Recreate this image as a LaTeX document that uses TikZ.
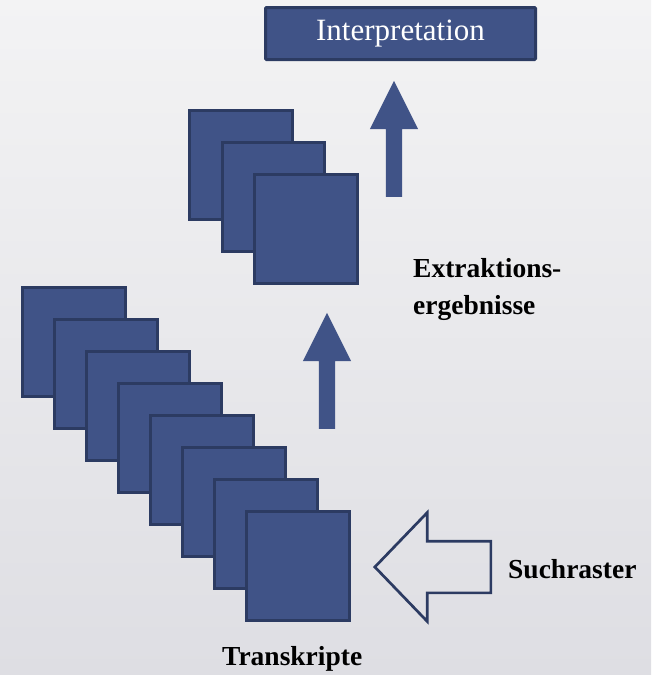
\documentclass[tikz,border=0pt]{standalone}
\usepackage{fontspec}
\setmainfont{Liberation Serif}
\usetikzlibrary{shapes.arrows}
\definecolor{sheetblue}{RGB}{64,83,135}
\definecolor{sheetline}{RGB}{44,59,98}
\definecolor{bgtop}{RGB}{243,243,244}
\definecolor{bgbottom}{RGB}{222,222,227}
\tikzset{
  sheet/.style={rectangle, draw=sheetline, fill=sheetblue, line width=3pt,
    minimum width=102.5pt, minimum height=108.5pt, inner sep=0pt},
  titlebox/.style={rectangle, draw=sheetline, fill=sheetblue, line width=3pt,
    minimum width=270pt, minimum height=52pt, rounded corners=1pt, text=white,
    font=\fontsize{31}{37}\selectfont},
  caption/.style={inner sep=0pt, font=\fontsize{27.5}{37}\selectfont\bfseries},
  uparrow/.style={single arrow, fill=sheetblue, shape border rotate=90,
    inner sep=8pt, minimum width=0pt, single arrow head extend=16pt,
    single arrow tip angle=53.13, minimum height=116pt},
  openarrow/.style={single arrow, draw=sheetline, line width=2.7pt,
    shape border rotate=180, inner sep=24.5pt, minimum width=0pt,
    single arrow head extend=28.5pt, single arrow tip angle=92.2,
    minimum height=116pt}
}
\begin{document}
\begin{tikzpicture}[x=1pt, y=-1pt]
    % background
    \shade[top color=bgtop, bottom color=bgbottom] (0,0) rectangle (651,675);
    % Place nodes
    \node [titlebox] (interp) at (400.5,33.5) {Interpretation};
    \foreach \i in {0,...,7}
        \node [sheet] (trans\i) at ({73.75+32*\i},{341.75+32*\i}) {};
    \foreach \i in {0,1,2}
        \node [sheet] (extr\i) at ({241+32.5*\i},{165+32*\i}) {};
    \node [uparrow, anchor=tail] (step1) at (327,429) {};
    \node [uparrow, anchor=tail] (step2) at (394,197) {};
    \node [openarrow, anchor=tip] (raster) at (373,567) {};
    % Labels
    \node [caption, anchor=base west] (such) at (508,578) {Suchraster};
    \node [caption, anchor=base west] (ergeb1) at (413,277) {Extraktions-};
    \node [caption, anchor=base west] (ergeb2) at (413,314) {ergebnisse};
    \node [caption, anchor=base west] (trlabel) at (222,665) {Transkripte};
\end{tikzpicture}
\end{document}
